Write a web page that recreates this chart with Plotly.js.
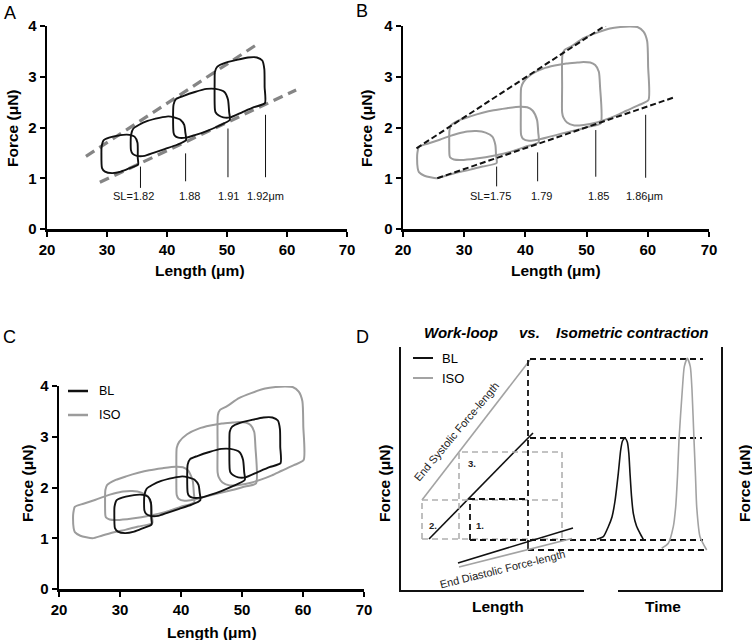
<!DOCTYPE html>
<html>
<head>
<meta charset="utf-8">
<script src="https://cdn.plot.ly/plotly-3.0.1.min.js"></script>
<style>html,body{margin:0;padding:0;background:#fff;}#chart{width:752px;height:640px;}</style>
</head>
<body>
<div id="chart"></div>
<script>
// ---------- DATA ----------
// Work loops at baseline (BL), length in µm, force in µN (panels A and C)
const blLoopsX = [
  [29.17, 29.07, 29.1, 29.46, 30.35, 31.83, 33.31, 34.59, 35.08, 35.13, 35.18, 33.8, 32.32, 30.84, 29.66, 29.17],
  [34.0, 34.0, 34.39, 35.28, 36.76, 38.73, 40.21, 41.19, 42.27, 42.87, 43.06, 43.16, 41.68, 39.71, 37.74, 36.26, 34.98, 34.29, 34.0],
  [41.09, 41.09, 41.49, 42.67, 44.64, 46.61, 48.09, 49.57, 50.16, 50.36, 50.46, 48.58, 46.61, 44.64, 43.16, 41.88, 41.29, 41.09],
  [47.99, 47.94, 47.99, 48.39, 49.57, 51.54, 53.51, 54.99, 55.88, 56.22, 56.27, 56.32, 54.5, 52.52, 50.55, 49.37, 48.58, 48.09, 47.99]
];
const blLoopsY = [
  [1.2, 1.5, 1.62, 1.75, 1.8, 1.84, 1.86, 1.82, 1.7, 1.4, 1.27, 1.2, 1.13, 1.1, 1.13, 1.2],
  [1.55, 1.85, 1.98, 2.05, 2.13, 2.19, 2.22, 2.2, 2.15, 2.05, 1.9, 1.75, 1.66, 1.58, 1.5, 1.44, 1.44, 1.48, 1.55],
  [1.9, 2.45, 2.56, 2.62, 2.7, 2.76, 2.76, 2.7, 2.55, 2.3, 2.15, 2.03, 1.93, 1.85, 1.8, 1.8, 1.84, 1.9],
  [2.35, 2.9, 3.1, 3.2, 3.27, 3.33, 3.38, 3.38, 3.32, 3.15, 2.8, 2.48, 2.4, 2.3, 2.2, 2.2, 2.24, 2.3, 2.35]
];
// Work loops with isoproterenol (ISO) (panels B and C)
const isoLoopsX = [
  [22.4, 22.3, 22.35, 22.6, 24, 26, 27.6, 29, 30.5, 32, 33.5, 34.6, 35.1, 35.2, 35.3, 33, 31, 29, 27, 25.5, 23.5, 22.6, 22.4],
  [27.6, 27.55, 27.6, 27.9, 29.3, 31, 33, 34.8, 37, 39.1, 40.3, 41.2, 41.9, 42.1, 42.15, 40, 37.5, 35, 32, 29.5, 28.3, 27.7, 27.6],
  [39.3, 39.25, 39.3, 39.7, 41, 42.9, 44.8, 46.7, 48.5, 49.5, 50.6, 51.4, 52.0, 52.2, 52.3, 50.5, 48.4, 46, 44, 42, 40.6, 39.6, 39.3],
  [46.0, 46.0, 46.05, 46.4, 47.5, 49.5, 51.5, 53.8, 55.5, 57.1, 58.3, 59.3, 59.9, 60.05, 60.1, 58.5, 56.5, 54.9, 53.2, 51.65, 49.5, 48, 46.8, 46.2, 46.0]
];
const isoLoopsY = [
  [1.2, 1.4, 1.5, 1.62, 1.68, 1.76, 1.83, 1.88, 1.92, 1.93, 1.9, 1.82, 1.65, 1.45, 1.3, 1.23, 1.17, 1.12, 1.05, 1.0, 1.05, 1.12, 1.2],
  [1.45, 1.7, 1.95, 2.05, 2.15, 2.22, 2.29, 2.34, 2.38, 2.41, 2.4, 2.33, 2.15, 1.9, 1.71, 1.62, 1.52, 1.45, 1.39, 1.36, 1.37, 1.41, 1.45],
  [1.85, 2.3, 2.78, 2.9, 3.05, 3.16, 3.22, 3.26, 3.28, 3.29, 3.28, 3.23, 3.1, 2.8, 2.08, 2.02, 1.95, 1.88, 1.82, 1.76, 1.74, 1.78, 1.85],
  [2.3, 2.8, 3.43, 3.53, 3.6, 3.76, 3.86, 3.95, 3.98, 3.99, 3.98, 3.89, 3.7, 3.2, 2.54, 2.44, 2.33, 2.24, 2.16, 2.1, 2.05, 2.04, 2.1, 2.2, 2.3]
];
// End-systolic / end-diastolic relations (dashed)
const esA_X = [26.49, 55.42], esA_Y = [1.43, 3.67];
const edA_X = [28.81, 61.52], edA_Y = [0.92, 2.74];
const esB_X = [22.2, 56.4], esB_Y = [1.59, 4.27];
const edB_X = [25.6, 64.2], edB_Y = [1.0, 2.59];
// Sarcomere length markers
const slA_X = [35.58, 43.1, 50.16, 56.42], slA_Top = [1.23, 1.49, 1.98, 2.25], slA_Bot = [0.81, 0.94, 1.02, 1.02];
const slA_Labels = ['SL=1.82', '1.88', '1.91', '1.92μm'], slA_LabelX = [34.36, 43.78, 50.2, 56.36];
const slB_X = [35.3, 42.0, 51.5, 59.65], slB_Top = [1.23, 1.51, 1.95, 2.25], slB_Bot = [0.84, 0.94, 1.03, 1.01];
const slB_Labels = ['SL=1.75', '1.79', '1.85', '1.86μm'], slB_LabelX = [34.3, 42.6, 52.0, 59.5];
const slLabelY = 0.645;
const xTicks = [20, 30, 40, 50, 60, 70], yTicks = [0, 1, 2, 3, 4];

// Panel D schematic (arbitrary units)
const dIsoEsX = [23, 131], dIsoEsY = [91, 231];
const dBlEsX = [30, 134], dBlEsY = [52, 158];
const dBlEdX = [59, 174], dBlEdY = [28, 63];
const dIsoEdX = [60, 173], dIsoEdY = [24, 52.5];
const dBlDashX = [[129, 129], [131, 304], [131, 303], [71, 71, 129], [71, 304], [129, 309]];
const dBlDashY = [[231, 49], [232, 232], [153, 153], [51, 92, 92], [51, 51], [41, 41]];
const dIsoDashX = [[23, 23], [23, 163], [23, 163], [60, 60, 163, 163]];
const dIsoDashY = [[52, 91], [91, 91], [52, 52], [52, 139, 139, 52]];
const dTickX = [129, 129], dTickY = [49, 41];
const dBlPeakX = [197.7, 204.3, 209.3, 213, 216, 219.3, 221.7, 223.5, 226, 228.3, 229.8, 231, 232.5, 234.3, 237.5, 241, 244.3];
const dBlPeakY = [51.7, 54.3, 64.3, 74, 90, 117.7, 141, 150, 152.7, 149, 138, 117.7, 95, 77.7, 65, 57.7, 51.7];
const dIsoPeakX = [262.7, 269.3, 274.3, 276.7, 278.5, 280, 283.3, 285.3, 288.3, 291.3, 293, 295, 296.5, 297.7, 301, 307.7];
const dIsoPeakY = [42.7, 47.7, 64.3, 84.3, 115, 151, 201, 224.3, 232.7, 224.3, 201, 151, 115, 84.3, 54.3, 41];
const dFrameX = [[1, 1, 185], [219, 323, 323]];
const dFrameY = [[244, 0, 0], [0, 0, 244]];
const dNumLabels = ['1.', '2.', '3.'], dNumX = [81, 34, 73], dNumY = [66, 66, 128];

// ---------- STYLE ----------
const FONT = 'Arial, "Liberation Sans", sans-serif';
const BLACK = '#111111', GREY = '#9c9c9c', DGREY = '#858585';
const traces = [];
function line(x, y, xa, ya, color, width, dash, shape) {
  traces.push({x: x, y: y, xaxis: xa, yaxis: ya, mode: 'lines', hoverinfo: 'skip', showlegend: false,
    line: {color: color, width: width, dash: dash || 'solid', shape: shape || 'linear', smoothing: 0.6}});
}
// Panel A
line(esA_X, esA_Y, 'x', 'y', DGREY, 3.2, '10px,6px');
line(edA_X, edA_Y, 'x', 'y', DGREY, 3.2, '10px,6px');
blLoopsX.forEach((lx, i) => line(lx, blLoopsY[i], 'x', 'y', BLACK, 1.9, 'solid', 'spline'));
slA_X.forEach((sx, i) => line([sx, sx], [slA_Top[i], slA_Bot[i]], 'x', 'y', BLACK, 1));
// Panel B
isoLoopsX.forEach((lx, i) => line(lx, isoLoopsY[i], 'x2', 'y2', GREY, 2, 'solid', 'spline'));
line(esB_X, esB_Y, 'x2', 'y2', BLACK, 2, '6px,3px');
line(edB_X, edB_Y, 'x2', 'y2', BLACK, 2, '6px,3px');
slB_X.forEach((sx, i) => line([sx, sx], [slB_Top[i], slB_Bot[i]], 'x2', 'y2', BLACK, 1));
// Panel C
isoLoopsX.forEach((lx, i) => line(lx, isoLoopsY[i], 'x3', 'y3', GREY, 2, 'solid', 'spline'));
blLoopsX.forEach((lx, i) => line(lx, blLoopsY[i], 'x3', 'y3', BLACK, 1.9, 'solid', 'spline'));
// Panel D
line(dIsoEsX, dIsoEsY, 'x4', 'y4', '#a3a3a3', 1.6);
line(dBlEsX, dBlEsY, 'x4', 'y4', BLACK, 1.6);
dIsoDashX.forEach((dx, i) => line(dx, dIsoDashY[i], 'x4', 'y4', '#b0b0b0', 1.6, '6px,4px'));
dBlDashX.forEach((dx, i) => line(dx, dBlDashY[i], 'x4', 'y4', BLACK, 1.8, '6px,4px'));
line(dTickX, dTickY, 'x4', 'y4', BLACK, 1.6);
line(dIsoEdX, dIsoEdY, 'x4', 'y4', '#a3a3a3', 1.6);
line(dBlEdX, dBlEdY, 'x4', 'y4', BLACK, 1.6);
line(dBlPeakX, dBlPeakY, 'x4', 'y4', BLACK, 1.6, 'solid', 'spline');
line(dIsoPeakX, dIsoPeakY, 'x4', 'y4', '#a3a3a3', 1.6, 'solid', 'spline');
dFrameX.forEach((fx, i) => line(fx, dFrameY[i], 'x4', 'y4', BLACK, 2));

const W = 752, H = 640;
const px = v => v / W, py = v => 1 - v / H;
function axisX(dom, anchor) {
  return {domain: dom, anchor: anchor, range: [20, 70], tickvals: xTicks, ticks: 'outside', ticklen: 5, tickwidth: 2,
    tickcolor: '#000', showline: true, linewidth: 2.5, linecolor: '#000', showgrid: false, zeroline: false, fixedrange: true,
    tickfont: {family: FONT, size: 15, color: '#000', weight: 'bold'}};
}
function axisY(dom, anchor) {
  return {domain: dom, anchor: anchor, range: [0, 4], tickvals: yTicks, ticks: 'outside', ticklen: 5, tickwidth: 2,
    tickcolor: '#000', showline: true, linewidth: 2.5, linecolor: '#000', showgrid: false, zeroline: false, fixedrange: true,
    tickfont: {family: FONT, size: 15, color: '#000', weight: 'bold'}};
}
const hidden = (dom, anchor, rng) => ({domain: dom, anchor: anchor, range: rng, visible: false, showgrid: false, zeroline: false, fixedrange: true});

const ann = [];
function txt(text, x, y, size, opts) {
  ann.push(Object.assign({text: text, x: x, y: y, xref: 'paper', yref: 'paper', showarrow: false,
    xanchor: 'center', yanchor: 'middle', font: {family: FONT, size: size, color: '#000'}}, opts || {}));
}
const bold = s => '<b>' + s + '</b>';
// panel letters
txt('A', px(10), py(13), 18); txt('B', px(362), py(11), 18); txt('C', px(9), py(337), 18); txt('D', px(362), py(337), 18);
// axis titles A, B, C
txt(bold('Length (μm)'), px(200), py(270), 15.5); txt(bold('Force (μN)'), px(13), py(128), 15.5, {textangle: -90});
txt(bold('Length (μm)'), px(556), py(270), 15.5); txt(bold('Force (μN)'), px(367), py(128), 15.5, {textangle: -90});
txt(bold('Length (μm)'), px(212), py(632), 15.5); txt(bold('Force (μN)'), px(27), py(483), 15.5, {textangle: -90});
// SL labels
slA_Labels.forEach((l, i) => ann.push({text: l, x: slA_LabelX[i], y: slLabelY, xref: 'x', yref: 'y', showarrow: false,
  font: {family: FONT, size: 11, color: '#111'}}));
slB_Labels.forEach((l, i) => ann.push({text: l, x: slB_LabelX[i], y: slLabelY, xref: 'x2', yref: 'y2', showarrow: false,
  font: {family: FONT, size: 11, color: '#111'}}));
// legends (C and D)
txt('BL', px(97), py(391), 12.5, {xanchor: 'left'}); txt('ISO', px(97), py(415), 12.5, {xanchor: 'left'});
txt('BL', px(440), py(358), 13, {xanchor: 'left'}); txt('ISO', px(440), py(378), 13, {xanchor: 'left'});
const shapes = [
  {type: 'line', xref: 'paper', yref: 'paper', x0: px(68), x1: px(88), y0: py(391), y1: py(391), line: {color: BLACK, width: 2.5}},
  {type: 'line', xref: 'paper', yref: 'paper', x0: px(68), x1: px(88), y0: py(415), y1: py(415), line: {color: GREY, width: 2.5}},
  {type: 'line', xref: 'paper', yref: 'paper', x0: px(413), x1: px(433), y0: py(358), y1: py(358), line: {color: BLACK, width: 2}},
  {type: 'line', xref: 'paper', yref: 'paper', x0: px(413), x1: px(433), y0: py(378), y1: py(378), line: {color: '#a3a3a3', width: 2}}
];
// Panel D texts
txt('<b><i>Work-loop</i></b>', px(461), py(332), 15);
txt('<b><i>vs.</i></b>', px(529), py(332), 15);
txt('<b><i>Isometric contraction</i></b>', px(632), py(332), 15);
txt(bold('Force (μN)'), px(384), py(483), 15.5, {textangle: -90});
txt(bold('Force (μN)'), px(744), py(483), 15.5, {textangle: -90});
txt(bold('Length'), px(498), py(606), 15.5);
txt(bold('Time'), px(663), py(606), 15.5);
ann.push({text: 'End Systolic Force-length', x: 57, y: 159, xref: 'x4', yref: 'y4', showarrow: false, textangle: -50,
  font: {family: FONT, size: 11, color: '#222'}});
ann.push({text: 'End Diastolic Force-length', x: 103.5, y: 22, xref: 'x4', yref: 'y4', showarrow: false, textangle: -14,
  font: {family: FONT, size: 11, color: '#222'}});
dNumLabels.forEach((l, i) => ann.push({text: bold(l), x: dNumX[i], y: dNumY[i], xref: 'x4', yref: 'y4', showarrow: false,
  font: {family: FONT, size: 9.5, color: '#222'}}));

const layout = {
  width: W, height: H, margin: {l: 0, r: 0, t: 0, b: 0}, paper_bgcolor: '#fff', plot_bgcolor: 'rgba(0,0,0,0)',
  showlegend: false, font: {family: FONT},
  xaxis: axisX([47 / W, 347 / W], 'y'), yaxis: axisY([py(229), py(26)], 'x'),
  xaxis2: axisX([403 / W, 709 / W], 'y2'), yaxis2: axisY([py(229), py(26)], 'x2'),
  xaxis3: axisX([59 / W, 364 / W], 'y3'), yaxis3: axisY([py(589), py(386)], 'x3'),
  xaxis4: hidden([389 / W, 733 / W], 'y4', [-10, 334]), yaxis4: hidden([py(601), py(337)], 'x4', [-10, 254]),
  annotations: ann, shapes: shapes
};
Plotly.newPlot('chart', traces, layout, {displayModeBar: false, staticPlot: true});
</script>
</body>
</html>
